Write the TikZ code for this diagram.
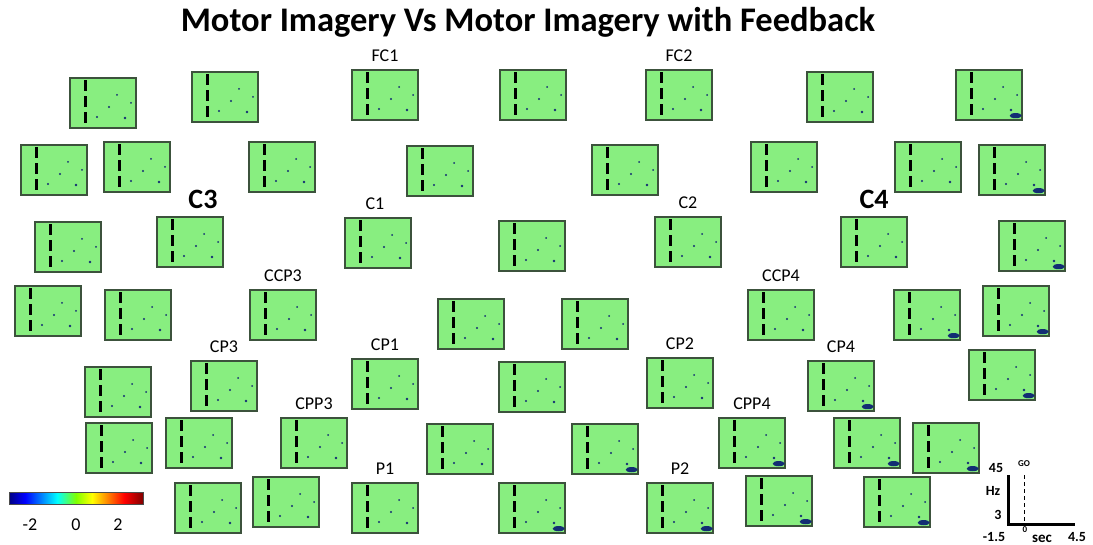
\documentclass[tikz,border=0pt]{standalone}
\usepackage{fontspec}
\setmainfont{Carlito}
\usepackage{tikz}
\usetikzlibrary{positioning,calc}

\definecolor{mapgreen}{RGB}{136,238,128}
\definecolor{mapframe}{RGB}{60,82,60}
\definecolor{blobblue}{RGB}{18,45,115}
\definecolor{jetdb}{RGB}{0,0,130}
\definecolor{jetdr}{RGB}{130,0,0}

\pgfdeclarehorizontalshading{jet}{100bp}{color(0bp)=(jetdb); color(25bp)=(jetdb); color(31bp)=(blue); color(43bp)=(cyan); color(50bp)=(green!50!yellow); color(56bp)=(yellow); color(68bp)=(red); color(75bp)=(jetdr); color(100bp)=(jetdr)}

\tikzset{
  panel/.style={draw=mapframe, line width=1.3pt, fill=mapgreen, minimum width=66, minimum height=50, inner sep=0pt},
  goline/.style={line width=2.4pt, dash pattern=on 11pt off 5pt, line cap=butt},
  chlbl/.style={font=\fontsize{18}{19}\selectfont, inner sep=0pt},
  bigchl/.style={font=\bfseries\fontsize{28}{29}\selectfont, inner sep=0pt},
  axlbl/.style={font=\bfseries\fontsize{14}{15}\selectfont, inner sep=0pt},
  spot/.style={fill=blobblue, draw=none},
}

\begin{document}
\begin{tikzpicture}[x=1pt,y=1pt,yscale=-1]
\useasboundingbox (0,0) rectangle (1093,545);

% Title
\node[font=\bfseries\fontsize{34.5}{36}\selectfont] (title) at (528,22) {Motor Imagery Vs Motor Imagery with Feedback};

% time-frequency maps: name/x/y/hot
\foreach \n/\x/\y/\h in {
  ra/103/103/0, rb/225/97/0, fc1/385/95/0, rc/533/95/0, fc2/679/95/0, rd/840/97/0, re/989/95/1,
  sa/54/170/0, sb/137/167/0, sc/282/167/0, sd/440/171/0, se/625/170/0, sf/784/167/0, sg/928/167/0, sh/1012/170/1,
  ta/68/247/0, c3/190/242/0, c1/378/243/0, tb/532/246/0, c2/688/242/0, c4/874/242/0, tc/1032/246/1,
  ua/48/311/0, ub/138/315/0, ccp3/283/315/0, uc/471/324/0, ud/595/324/0, ccp4/781/315/0, ue/927/315/1, uf/1016/311/1,
  va/118/392/0, cp3/224/386/0, cp1/385/384/0, vb/532/387/0, cp2/680/383/0, cp4/841/386/1, vc/1002/375/1,
  wa/119/448/0, wb/199/443/0, cpp3/314/443/0, wc/460/449/0, wd/605/449/1, cpp4/752/443/1, we/867/443/1, wf/946/448/1,
  xa/208/508/0, xb/286/502/0, p1/385/508/0, xc/532/508/1, p2/680/508/1, xd/779/501/1, xe/897/502/1}
{
  \node[panel] (\n) at (\x,\y) {};
  \draw[goline] ($(\n.north west)!.24!(\n.north east)+(0,3)$) -- ($(\n.south west)!.24!(\n.south east)+(0,-2)$);
  \fill[spot] ($(\n.center)+(6,4)$) circle (1.1);
  \fill[spot] ($(\n.center)+(14,-8)$) circle (1);
  \fill[spot] ($(\n.center)+(-6,14)$) circle (1.1);
  \fill[spot] ($(\n.center)+(22,15)$) circle (1.3);
  \fill[spot] ($(\n.center)+(28,0)$) circle (1);
  \ifnum\h=1
    \fill[spot] ($(\n.south east)+(-7,-5)$) ellipse (6 and 2.6);
  \fi
}

% channel labels
\node[chlbl, above=8pt of fc1] (lfc1) {FC1};
\node[chlbl, above=8pt of fc2] (lfc2) {FC2};
\node[bigchl, above=7pt of c3, xshift=13] (lc3) {C3};
\node[bigchl, above=7pt of c4] (lc4) {C4};
\node[chlbl, above=8pt of c1, xshift=-3] (lc1) {C1};
\node[chlbl, above=8pt of c2] (lc2) {C2};
\node[chlbl, above=8pt of ccp3] (lccp3) {CCP3};
\node[chlbl, above=8pt of ccp4] (lccp4) {CCP4};
\node[chlbl, above=8pt of cp3] (lcp3) {CP3};
\node[chlbl, above=8pt of cp1] (lcp1) {CP1};
\node[chlbl, above=8pt of cp2] (lcp2) {CP2};
\node[chlbl, above=8pt of cp4] (lcp4) {CP4};
\node[chlbl, above=8pt of cpp3] (lcpp3) {CPP3};
\node[chlbl, above=8pt of cpp4] (lcpp4) {CPP4};
\node[chlbl, above=8pt of p1] (lp1) {P1};
\node[chlbl, above=8pt of p2] (lp2) {P2};

% colour bar
\node[shading=jet, draw=black!70, line width=.5pt, minimum width=134, minimum height=12, inner sep=0pt] (cbar) at (76,498) {};
\node[font=\fontsize{18}{19}\selectfont] (cmin) at (30,525) {-2};
\node[font=\fontsize{18}{19}\selectfont] (czero) at (76,525) {0};
\node[font=\fontsize{18}{19}\selectfont] (cmax) at (118,525) {2};

% axes key
\coordinate (hztop) at (1008,475);
\coordinate (org) at (1008,524);
\coordinate (secend) at (1075,524);
\coordinate (gotop) at (1024,475);
\coordinate (gobot) at (1024,524);
\draw[line width=3pt] (hztop) -- (org) -- (secend);
\draw[line width=.8pt, dash pattern=on 4pt off 3pt] (gotop) -- (gobot);
\node[axlbl, font=\bfseries\fontsize{9}{10}\selectfont] (go) at (1024,464) {GO};
\node[axlbl] (f45) at (996,468) {45};
\node[axlbl] (hz) at (993,491) {Hz};
\node[axlbl] (f3) at (998,515) {3};
\node[axlbl] (tmin) at (994,537) {-1.5};
\node[axlbl, font=\bfseries\fontsize{9}{10}\selectfont] (tzero) at (1025,530) {0};
\node[axlbl, font=\bfseries\fontsize{15}{16}\selectfont] (sec) at (1042,539) {sec};
\node[axlbl] (tmax) at (1077,537) {4.5};

\end{tikzpicture}
\end{document}
